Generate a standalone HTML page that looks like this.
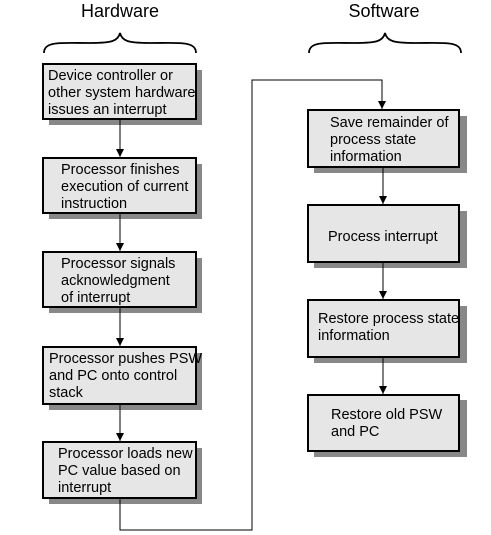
<!DOCTYPE html>
<html><head><meta charset="utf-8"><style>
html,body{margin:0;padding:0;background:#fff;}
svg{display:block;font-family:"Liberation Sans",Arial,sans-serif;}
</style></head><body>
<svg width="491" height="535" viewBox="0 0 491 535" xmlns="http://www.w3.org/2000/svg">
<defs><marker id="a" markerWidth="8" markerHeight="8" refX="8" refY="4" orient="auto" markerUnits="userSpaceOnUse"><path d="M0,0 L8,4 L0,8 z" fill="#000"/></marker></defs>
<text x="120" y="17" font-size="18" text-anchor="middle">Hardware</text>
<text x="384" y="17" font-size="18" text-anchor="middle">Software</text>
<path d="M44,53 C44,41 60,43 90,43 C112,43 118,41 120,33 C122,41 128,43 150,43 C180,43 196,41 196,53" fill="none" stroke="#000" stroke-width="1.8"/>
<path d="M309,53 C309,41 325,43 355,43 C377,43 383,41 385,33 C387,41 393,43 415,43 C445,43 461,41 461,53" fill="none" stroke="#000" stroke-width="1.8"/>
<g fill="#888">
<rect x="49" y="70" width="153" height="55"/>
<rect x="49" y="164" width="153" height="55"/>
<rect x="49" y="258" width="153" height="55"/>
<rect x="49" y="353" width="153" height="57"/>
<rect x="49" y="448" width="153" height="56"/>
<rect x="314" y="116" width="153" height="57"/>
<rect x="314" y="211" width="153" height="57"/>
<rect x="314" y="306" width="153" height="57"/>
<rect x="314" y="400" width="153" height="57"/>
</g>
<g fill="#e6e6e6" stroke="#000" stroke-width="2">
<rect x="43" y="64" width="153" height="55"/>
<rect x="43" y="158" width="153" height="55"/>
<rect x="43" y="252" width="153" height="55"/>
<rect x="43" y="347" width="153" height="57"/>
<rect x="43" y="442" width="153" height="56"/>
<rect x="308" y="110" width="151" height="57"/>
<rect x="308" y="205" width="151" height="57"/>
<rect x="308" y="300" width="151" height="57"/>
<rect x="308" y="395" width="151" height="56"/>
</g>
<g stroke="#000" stroke-width="1" fill="none">
<line x1="120" y1="119" x2="120" y2="157" marker-end="url(#a)"/>
<line x1="120" y1="213" x2="120" y2="251" marker-end="url(#a)"/>
<line x1="120" y1="307" x2="120" y2="346" marker-end="url(#a)"/>
<line x1="120" y1="404" x2="120" y2="441" marker-end="url(#a)"/>
<polyline points="120,498 120,530 252,530 252,80 382,80 382,109" marker-end="url(#a)"/>
<line x1="383" y1="167" x2="383" y2="204" marker-end="url(#a)"/>
<line x1="383" y1="262" x2="383" y2="299" marker-end="url(#a)"/>
<line x1="383" y1="357" x2="383" y2="394" marker-end="url(#a)"/>
</g>
<g font-size="14.5" fill="#000">
<text x="48" y="80">Device controller or</text>
<text x="48" y="97">other system hardware</text>
<text x="48" y="114">issues an interrupt</text>
<text x="61" y="174">Processor finishes</text>
<text x="61" y="191">execution of current</text>
<text x="61" y="208">instruction</text>
<text x="61" y="268">Processor signals</text>
<text x="61" y="285">acknowledgment</text>
<text x="61" y="302">of interrupt</text>
<text x="49" y="363">Processor pushes PSW</text>
<text x="49" y="380">and PC onto control</text>
<text x="49" y="397">stack</text>
<text x="58" y="458">Processor loads new</text>
<text x="58" y="475">PC value based on</text>
<text x="58" y="492">interrupt</text>
<text x="330" y="127">Save remainder of</text>
<text x="330" y="144">process state</text>
<text x="330" y="161">information</text>
<text x="328" y="241">Process interrupt</text>
<text x="318" y="323">Restore process state</text>
<text x="318" y="340">information</text>
<text x="331" y="419">Restore old PSW</text>
<text x="331" y="436">and PC</text>
</g>
</svg>
</body></html>
